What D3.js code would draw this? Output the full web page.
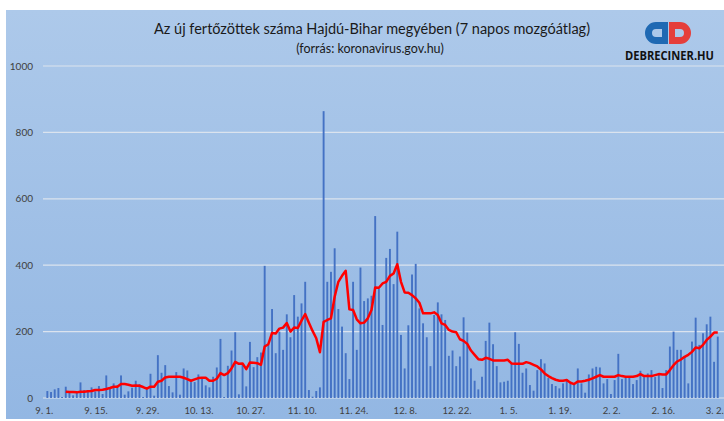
<!DOCTYPE html>
<html>
<head>
<meta charset="utf-8">
<script src="https://cdn.jsdelivr.net/npm/d3@7"></script>
<style>
  body { margin: 0; background: #fff; }
  svg { display: block; }
</style>
</head>
<body>
<svg width="724" height="421"></svg>
<script>
// daily new cases, Sept 1 2020 -> Mar 2 2021
var cases = [
  21,18,26,30,3,34,19,8,16,47, 24,24,32,20,36,12,68,29,44,38,
  68,10,20,31,52,42,3,26,73,7, 129,76,99,36,17,78,10,89,83,48,
  48,71,62,38,32,64,92,178,3,97, 143,198,11,102,35,169,93,123,137,398,
  160,268,135,200,145,252,183,310,245,285, 350,24,4,21,32,864,350,380,451,268,
  215,135,57,350,145,393,292,300,308,548, 330,220,422,449,343,501,190,89,219,372,
  404,270,225,183,96,250,288,252,235,127, 143,96,125,243,197,89,52,26,64,172,
  227,162,96,47,49,52,104,198,163,76, 89,39,22,84,117,104,60,42,36,29,
  44,57,44,44,89,44,16,71,89,94, 92,44,57,12,54,133,57,63,63,42,
  54,82,63,74,84,63,75,30,84,155, 200,145,145,125,44,170,242,160,195,222,
  245,109,185
];

// 7 day moving average as drawn (red line)
var avg7 = [
  null,null,null,null,null,19,18,18,17,19, 19,20,21,24,24,25,27,30,34,34,
  42,42,40,37,38,37,33,28,34,34, 49,52,62,64,64,64,64,61,57,52,
  56,60,61,61,52,52,58,75,69,75, 89,109,103,104,87,107,106,105,100,155,
  162,196,194,209,212,226,200,212,211,233, 253,227,202,180,138,229,235,240,305,350,
  368,383,267,265,237,225,227,240,265,333, 332,345,350,368,375,403,350,318,317,310,
  300,287,255,255,255,258,250,225,220,205, 200,198,177,172,163,143,130,117,115,121,
  118,113,113,113,113,115,104,103,103,103, 108,105,100,95,86,74,66,60,55,52,
  52,54,46,42,50,50,52,55,59,64, 69,64,64,64,64,69,66,64,64,64,
  66,72,66,66,66,69,72,71,71,84, 99,110,116,124,130,139,152,150,160,175,
  185,197,197
];

var yTicks = [0, 200, 400, 600, 800, 1000];
var startDay = new Date(2020, 8, 1);
var days = d3.range(cases.length);

var svg = d3.select("svg"),
    width = 724,
    height = 421;

var defs = svg.append("defs");
var grad = defs.append("linearGradient")
    .attr("id", "bg").attr("x1", 0).attr("y1", 0).attr("x2", 0).attr("y2", 1);
grad.append("stop").attr("offset", "0%").attr("stop-color", "#adc9ea");
grad.append("stop").attr("offset", "100%").attr("stop-color", "#93b7e3");

svg.append("rect")
    .attr("x", 6).attr("y", 10)
    .attr("width", width - 6).attr("height", 409)
    .attr("fill", "url(#bg)");

var xScale = d3.scaleBand().domain(days).range([45.5, 719.6]).padding(0);
var yScale = d3.scaleLinear().domain([0, 1000]).range([398, 66]);

// gridlines
svg.append("g")
    .selectAll("line")
    .data(yTicks)
    .enter().append("line")
    .attr("x1", 43).attr("x2", width)
    .attr("y1", function(d) { return yScale(d); })
    .attr("y2", function(d) { return yScale(d); })
    .attr("stroke", "#dbe3ee")
    .attr("stroke-width", 1.2);

// y labels
svg.append("g")
    .selectAll("text")
    .data(yTicks)
    .enter().append("text")
    .attr("x", 33)
    .attr("y", function(d) { return yScale(d) + 3.5; })
    .attr("text-anchor", "end")
    .attr("font-family", "Lato, sans-serif")
    .attr("font-size", "10px")
    .attr("fill", "#404040")
    .text(function(d) { return d; });

// bars
var bw = 1.9;
svg.append("g")
    .selectAll("rect")
    .data(days)
    .enter().append("rect")
    .attr("x", function(i) { return xScale(i) + xScale.bandwidth() / 2 - bw / 2; })
    .attr("y", function(i) { return yScale(cases[i]); })
    .attr("width", bw)
    .attr("height", function(i) { return yScale(0) - yScale(cases[i]); })
    .attr("fill", "#4472c4");

// x axis
var fmt = d3.timeFormat("%-m. %-d.");
var xAxis = d3.axisBottom(xScale)
    .tickValues(d3.range(0, cases.length, 14))
    .tickSize(0)
    .tickPadding(9)
    .tickFormat(function(i) { return fmt(d3.timeDay.offset(startDay, i)); });

var gx = svg.append("g")
    .attr("transform", "translate(-3," + yScale(0) + ")")
    .call(xAxis);
gx.select(".domain").remove();
gx.selectAll("text")
    .attr("font-family", "Lato, sans-serif")
    .attr("font-size", "9.5px")
    .attr("fill", "#404040");

// moving average
var line = d3.line()
    .defined(function(i) { return avg7[i] != null; })
    .x(function(i) { return xScale(i) + xScale.bandwidth() / 2; })
    .y(function(i) { return yScale(avg7[i]); });

svg.append("path")
    .datum(days)
    .attr("d", line)
    .attr("fill", "none")
    .attr("stroke", "#ff0000")
    .attr("stroke-width", 2.5)
    .attr("stroke-linejoin", "round");

// titles
svg.append("text")
    .attr("x", 372).attr("y", 34)
    .attr("text-anchor", "middle")
    .attr("font-family", "Lato, sans-serif")
    .attr("font-size", "14.5px")
    .attr("fill", "#1a1a1a")
    .text("Az új fertőzöttek száma Hajdú-Bihar megyében (7 napos mozgóátlag)");

svg.append("text")
    .attr("x", 370).attr("y", 53)
    .attr("text-anchor", "middle")
    .attr("font-family", "Lato, sans-serif")
    .attr("font-size", "12.5px")
    .attr("fill", "#1a1a1a")
    .text("(forrás: koronavirus.gov.hu)");

// logo
var logo = svg.append("g");
logo.append("path")
    .attr("d", "M668,22 L656,22 A11,11 0 0 0 656,44 L668,44 Z M662,29 L656,29 A4,4 0 0 0 656,37 L662,37 Z")
    .attr("fill", "#1f69b3")
    .attr("fill-rule", "evenodd");
logo.append("path")
    .attr("d", "M669,22 L680,22 A11,11 0 0 1 680,44 L669,44 Z M675,29 L680,29 A4,4 0 0 1 680,37 L675,37 Z")
    .attr("fill", "#e53e3b")
    .attr("fill-rule", "evenodd");
logo.append("text")
    .attr("x", 669.5).attr("y", 60)
    .attr("text-anchor", "middle")
    .attr("font-family", "'Open Sans', sans-serif")
    .attr("font-weight", "bold")
    .attr("font-size", "12.5px")
    .attr("textLength", 89)
    .attr("lengthAdjust", "spacingAndGlyphs")
    .attr("fill", "#111")
    .text("DEBRECINER.HU");
</script>
</body>
</html>
